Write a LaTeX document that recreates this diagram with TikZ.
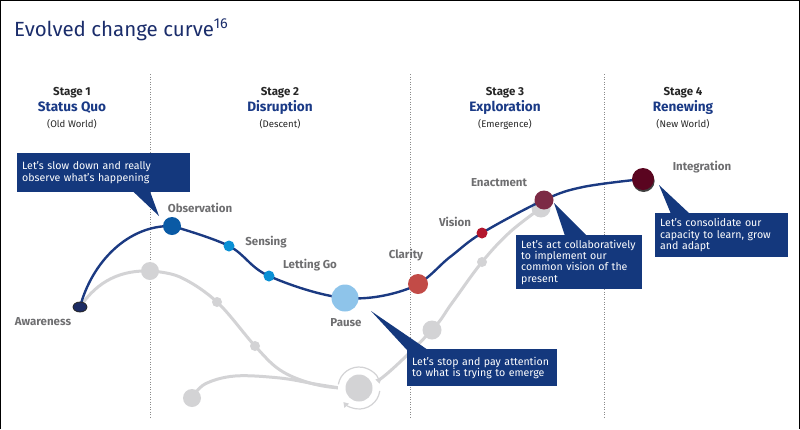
\documentclass[tikz,border=0pt]{standalone}
\usepackage{fontspec}
\setmainfont{Fira Sans}
\usetikzlibrary{arrows.meta}
\definecolor{navy}{HTML}{14387D}
\definecolor{curveblue}{HTML}{1B3A82}
\definecolor{titleblue}{HTML}{1B2D6B}
\definecolor{stageblue}{HTML}{1A3A86}
\definecolor{lblgray}{HTML}{6E6E70}
\definecolor{ltgray}{HTML}{D3D3D5}
\definecolor{dotgray}{HTML}{8A8A8A}
\definecolor{cAware}{HTML}{1C2B63}
\definecolor{cObs}{HTML}{0A5AA5}
\definecolor{cSens}{HTML}{0A90D5}
\definecolor{cPause}{HTML}{8EC4EA}
\definecolor{cClar}{HTML}{C24B47}
\definecolor{cVis}{HTML}{B3172D}
\definecolor{cEnact}{HTML}{7C2A45}
\definecolor{cInteg}{HTML}{5A0520}
\begin{document}
\begin{tikzpicture}[x=1pt,y=-1pt,
  lbl/.style={font=\fontsize{11.5}{13}\selectfont\bfseries, text=lblgray, inner sep=0pt},
  stagenum/.style={font=\fontsize{11.5}{13}\selectfont\bfseries, text=black!85, anchor=base, inner sep=0pt},
  stagename/.style={font=\fontsize{13.6}{16}\selectfont\bfseries, text=stageblue, anchor=base, inner sep=0pt},
  stagesub/.style={font=\fontsize{9.6}{11}\selectfont, text=black!85, anchor=base, inner sep=0pt},
  callout/.style={fill=navy, text=white, font=\fontsize{10.6}{11.4}\selectfont, align=left, anchor=north west, inner xsep=5pt, inner ysep=0pt},
  divider/.style={dotgray, line width=0.8pt, dash pattern=on 0.9pt off 1.6pt},
  bluecurve/.style={curveblue, line width=2.4pt},
  graycurve/.style={ltgray, line width=3pt},
  bead/.style={circle, inner sep=0pt, minimum size=#1},
  ringline/.style={ltgray, line width=1.2pt}
]
\useasboundingbox (0,0) rectangle (800,429);
% frame (top, left, right)
\draw[black, line width=1.3pt] (0.6,429) -- (0.6,0.6) -- (799.4,0.6) -- (799.4,429);

% title
\node[anchor=base west, inner sep=0pt, text=titleblue, font=\fontsize{20.5}{24}\selectfont] (title) at (14,36) {Evolved change curve\textsuperscript{16}};

% dividers
\draw[divider] (150,74) -- (150,418);
\draw[divider] (410,74) -- (410,418);
\draw[divider] (604,74) -- (604,418);

% stage headings
\node[stagenum] (s1) at (72,95) {Stage 1};
\node[stagename] (s1n) at (72,111) {Status Quo};
\node[stagesub] (s1s) at (72,127) {(Old World)};
\node[stagenum] (s2) at (280,95) {Stage 2};
\node[stagename] (s2n) at (280,111) {Disruption};
\node[stagesub] (s2s) at (280,127) {(Descent)};
\node[stagenum] (s3) at (505,95) {Stage 3};
\node[stagename] (s3n) at (505,111) {Exploration};
\node[stagesub] (s3s) at (505,127) {(Emergence)};
\node[stagenum] (s4) at (683,95) {Stage 4};
\node[stagename] (s4n) at (683,111) {Renewing};
\node[stagesub] (s4s) at (683,127) {(New World)};

% grey (old) curve
\draw[graycurve] (80,307) .. controls (98,280) and (122,270) .. (150,271);
\draw[graycurve] plot[smooth, tension=0.6] coordinates {(150,271) (180,277) (217,302) (255,346) (280,370) (310,383) (340,388) (360,386) (383,377) (432,330) (452,303) (482,262) (510,232) (541,208)};
\draw[graycurve] plot[smooth, tension=0.6] coordinates {(192,398) (205,384) (235,376) (280,378) (315,384) (340,388)};
% cycle ring
\node[bead=42pt, fill=white] (ring) at (359,388) {};
\draw[ringline, -{Triangle[length=5pt,width=6pt]}] (359,388) ++(-170:21) arc[start angle=-170, end angle=-12, radius=21];
\draw[ringline, -{Triangle[length=5pt,width=6pt]}] (359,388) ++(8:21) arc[start angle=8, end angle=138, radius=21];
\node[bead=27pt, fill=ltgray] (cyc) at (359,388) {};
% grey beads
\node[bead=18pt, fill=ltgray] (g1) at (150,271) {};
\node[bead=10pt, fill=ltgray] (g2) at (217,302) {};
\node[bead=10pt, fill=ltgray] (g3) at (255,346) {};
\node[bead=18pt, fill=ltgray] (g4) at (192,398) {};
\node[bead=19pt, fill=ltgray] (g5) at (432,330) {};
\node[bead=10pt, fill=ltgray] (g6) at (482,262) {};
\node[bead=19pt, fill=ltgray] (g7) at (541,208) {};

% blue (evolved) curve
\draw[bluecurve] (80,307) .. controls (92,262) and (128,225) .. (172,226);
\draw[bluecurve] plot[smooth, tension=0.6] coordinates {(172,226) (229,246) (269,276) (345,298) (410,288) (450,257) (482,233) (544,200) (583,187) (643,179)};

% beads on blue curve
\draw[draw=black!85, line width=0.8pt, fill=cAware] (80,307) ellipse[x radius=7, y radius=5];
\coordinate (aw) at (80,307);
\node[bead=18pt, fill=cObs] (obs) at (172,226) {};
\node[bead=11pt, fill=cSens] (sen) at (229,246) {};
\node[bead=11pt, fill=cSens] (let) at (269,276) {};
\node[bead=27pt, fill=cPause] (pau) at (345,298) {};
\node[bead=20pt, fill=cClar] (cla) at (418,284) {};
\node[bead=11pt, fill=cVis] (vis) at (482,233) {};
\node[bead=19pt, fill=cEnact] (ena) at (544,200) {};
\node[bead=22pt, fill=black!75] (intsh) at (643.6,181) {};
\node[bead=22pt, fill=cInteg] (int) at (643,179) {};

% labels
\node[lbl] (law) at (43,322) {Awareness};
\node[lbl] (lobs) at (200,208) {Observation};
\node[lbl] (lsen) at (266,242) {Sensing};
\node[lbl] (llet) at (310,265) {Letting Go};
\node[lbl] (lpau) at (346,323) {Pause};
\node[lbl] (lcla) at (406,255) {Clarity};
\node[lbl] (lvis) at (455,222) {Vision};
\node[lbl] (lena) at (499,183) {Enactment};
\node[lbl] (lint) at (702,167) {Integration};

% callouts
\coordinate (p1) at (159,216);
\coordinate (p2) at (371,311);
\coordinate (p3) at (554,203);
\coordinate (p4) at (659,185);

\node[callout, minimum width=173pt, minimum height=39pt, text width=163pt] (c1) at (17,153) {Let’s slow down and really\\observe what’s happening};
\fill[navy] ([xshift=116pt,yshift=1pt]c1.south west) -- (p1) -- ([xshift=133pt,yshift=1pt]c1.south west) -- cycle;

\node[callout, minimum width=150pt, minimum height=37pt, text width=140pt] (c2) at (407,349) {Let’s stop and pay attention\\to what is trying to emerge};
\fill[navy] ([yshift=-1pt]c2.north west) -- (p2) -- ([xshift=21pt,yshift=-1pt]c2.north west) -- cycle;

\node[callout, minimum width=126pt, minimum height=54pt, text width=116pt] (c3) at (516,235) {Let’s act collaboratively\\to implement our\\common vision of the\\present};
\fill[navy] ([xshift=49pt,yshift=-1pt]c3.north west) -- (p3) -- ([xshift=71pt,yshift=-1pt]c3.north west) -- cycle;

\node[callout, minimum width=133pt, minimum height=44pt, text width=123pt] (c4) at (655,213) {Let’s consolidate our\\capacity to learn, grow\\and adapt};
\fill[navy] ([xshift=16pt,yshift=-1pt]c4.north west) -- (p4) -- ([xshift=35pt,yshift=-1pt]c4.north west) -- cycle;
\end{tikzpicture}
\end{document}
